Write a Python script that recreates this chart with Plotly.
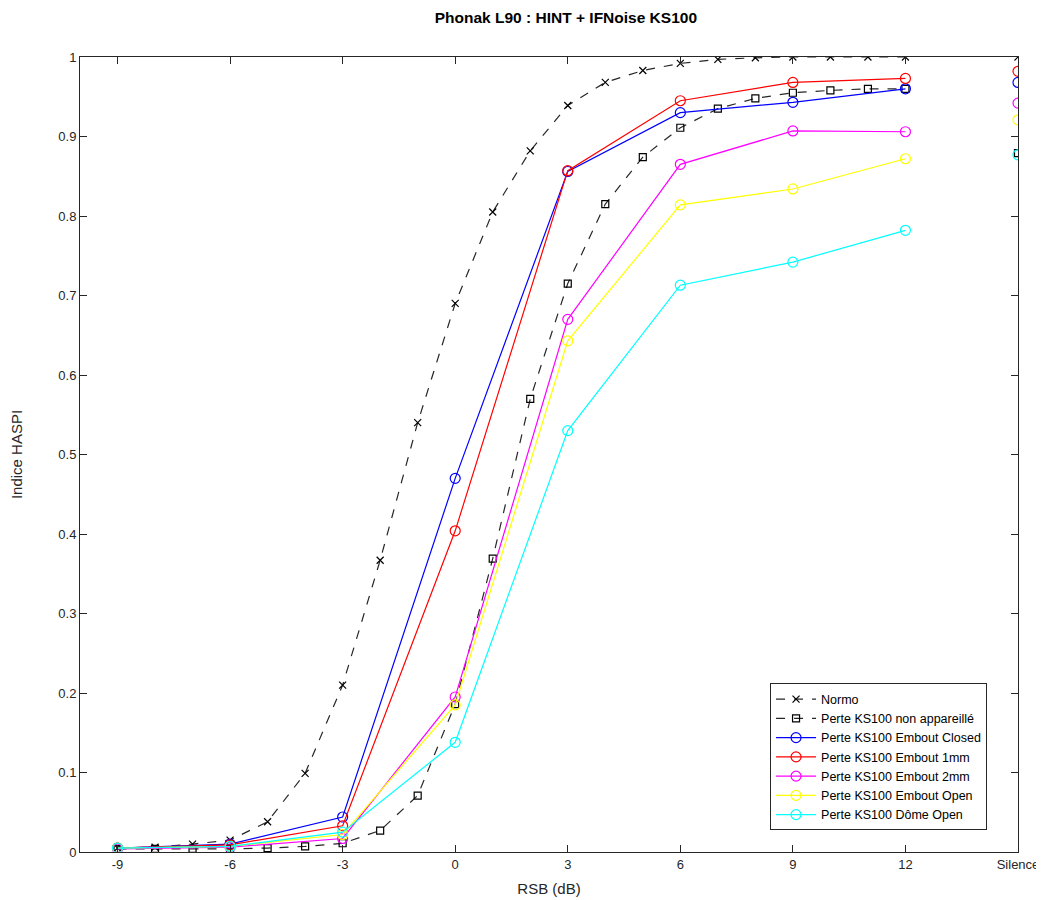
import plotly.graph_objects as go

# ---- data ----
snr_fine = [-9, -8, -7, -6, -5, -4, -3, -2, -1, 0, 1, 2, 3, 4, 5, 6, 7, 8, 9, 10, 11, 12]
normo = [0.005, 0.006, 0.010, 0.015, 0.038, 0.099, 0.210, 0.367, 0.540, 0.690, 0.805,
         0.882, 0.939, 0.968, 0.983, 0.992, 0.997, 0.999, 1.0, 1.0, 1.0, 1.0]
non_app = [0.004, 0.004, 0.004, 0.004, 0.005, 0.007, 0.011, 0.027, 0.071, 0.186, 0.369,
           0.570, 0.715, 0.815, 0.874, 0.911, 0.935, 0.948, 0.955, 0.958, 0.960, 0.960]

snr_ha = [-9, -6, -3, 0, 3, 6, 9, 12]
closed = [0.005, 0.010, 0.044, 0.470, 0.856, 0.930, 0.943, 0.960]
mm1 = [0.005, 0.009, 0.033, 0.404, 0.857, 0.945, 0.968, 0.973]
mm2 = [0.004, 0.006, 0.017, 0.195, 0.670, 0.865, 0.907, 0.906]
emb_open = [0.005, 0.007, 0.022, 0.185, 0.643, 0.814, 0.834, 0.872]
dome_open = [0.005, 0.007, 0.025, 0.138, 0.530, 0.713, 0.742, 0.782]

silence_x = 15
silence_vals = {
    "normo": 1.0, "non_app": 0.879, "closed": 0.968, "mm1": 0.982,
    "mm2": 0.942, "open": 0.921, "dome": 0.877,
}

x_tickvals = [-9, -6, -3, 0, 3, 6, 9, 12, 15]
x_ticktext = ["-9", "-6", "-3", "0", "3", "6", "9", "12", "Silence"]
y_tickvals = [0, 0.1, 0.2, 0.3, 0.4, 0.5, 0.6, 0.7, 0.8, 0.9, 1]
y_ticktext = ["0", "0.1", "0.2", "0.3", "0.4", "0.5", "0.6", "0.7", "0.8", "0.9", "1"]

names = {
    "normo": "Normo",
    "non_app": "Perte KS100 non appareillé",
    "closed": "Perte KS100 Embout Closed",
    "mm1": "Perte KS100 Embout 1mm",
    "mm2": "Perte KS100 Embout 2mm",
    "open": "Perte KS100 Embout Open",
    "dome": "Perte KS100 Dôme Open",
}

fig = go.Figure()

dash_black = "#262626"
fig.add_trace(go.Scatter(x=snr_fine, y=normo, mode="lines+markers", name=names["normo"],
                         line=dict(color=dash_black, width=1.2, dash="dash"),
                         marker=dict(symbol="x-thin-open", size=7,
                                     line=dict(color="black", width=1.2), color="black")))
fig.add_trace(go.Scatter(x=snr_fine, y=non_app, mode="lines+markers", name=names["non_app"],
                         line=dict(color=dash_black, width=1.2, dash="dash"),
                         marker=dict(symbol="square-open", size=7,
                                     line=dict(color="black", width=1.2), color="black")))

ha_series = [
    ("closed", closed, "#0000FF"),
    ("mm1", mm1, "#FF0000"),
    ("mm2", mm2, "#FF00FF"),
    ("open", emb_open, "#FFFF00"),
    ("dome", dome_open, "#00FFFF"),
]
for key, vals, col in ha_series:
    fig.add_trace(go.Scatter(x=snr_ha, y=vals, mode="lines+markers", name=names[key],
                             line=dict(color=col, width=1.2),
                             marker=dict(symbol="circle-open", size=10,
                                         line=dict(color=col, width=1.2), color=col)))

# Silence markers (not connected)
fig.add_trace(go.Scatter(x=[silence_x], y=[silence_vals["normo"]], mode="markers", showlegend=False,
                         marker=dict(symbol="x-thin-open", size=7, color="black",
                                     line=dict(color="black", width=1.2))))
fig.add_trace(go.Scatter(x=[silence_x], y=[silence_vals["non_app"]], mode="markers", showlegend=False,
                         marker=dict(symbol="square-open", size=7, color="black",
                                     line=dict(color="black", width=1.2))))
for key, vals, col in ha_series:
    fig.add_trace(go.Scatter(x=[silence_x], y=[silence_vals[key]], mode="markers", showlegend=False,
                             marker=dict(symbol="circle-open", size=10, color=col,
                                         line=dict(color=col, width=1.2))))

axis_col = "#262626"
W, H = 1036, 892
fig.update_layout(
    width=W, height=H,
    paper_bgcolor="white", plot_bgcolor="white",
    margin=dict(l=72, r=26, t=49, b=48),
    font=dict(family="Liberation Sans, Arial, sans-serif", size=13, color=axis_col),
    title=dict(text="<b>Phonak L90 : HINT + IFNoise KS100</b>", xref="paper", x=0.518,
               xanchor="center", y=1 - 10 / H, yanchor="middle",
               font=dict(size=15.5, color="black")),
    showlegend=True,
    legend=dict(x=0.967, xanchor="right", y=0.1195, yanchor="middle",
                bgcolor="white", bordercolor="#262626", borderwidth=1,
                font=dict(size=12.5, color="black"), tracegroupgap=0,
                itemwidth=40),
)
fig.update_xaxes(range=[-10, 15], tickvals=x_tickvals, ticktext=x_ticktext, automargin=False,
                 showgrid=False, zeroline=False, showline=True, linecolor=axis_col, linewidth=1,
                 mirror="ticks", ticks="inside", ticklen=7, tickcolor=axis_col,
                 title=dict(text="RSB (dB)", font=dict(size=15), standoff=12),
                 tickfont=dict(size=13))
fig.update_yaxes(range=[0, 1], tickvals=y_tickvals, ticktext=y_ticktext, automargin=False,
                 showgrid=False, zeroline=False, showline=True, linecolor=axis_col, linewidth=1,
                 mirror="ticks", ticks="inside", ticklen=7, tickcolor=axis_col,
                 title=dict(text="Indice HASPI", font=dict(size=15), standoff=33),
                 tickfont=dict(size=13))

fig.write_html("out.html")
